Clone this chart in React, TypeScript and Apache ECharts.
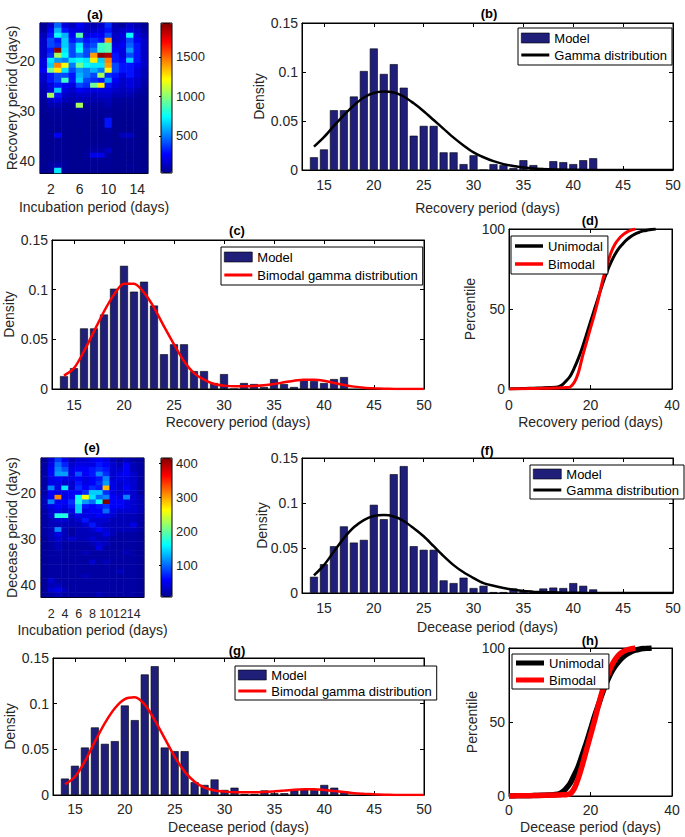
import React, { useEffect, useRef } from "react";
import * as echarts from "echarts";

// ---------------- data ----------------
const incubationDays = ["1", "2", "3", "4", "5", "6", "7", "8", "9", "10", "11", "12", "13", "14", "15"];
const periodDays = ["13", "14", "15", "16", "17", "18", "19", "20", "21", "22", "23", "24", "25", "26", "27", "28", "29", "30", "31", "32", "33", "34", "35", "36", "37", "38", "39", "40", "41", "42"];
const histDays = [14, 15, 16, 17, 18, 19, 20, 21, 22, 23, 24, 25, 26, 27, 28, 29, 30, 31, 32, 33, 34, 35, 36, 37, 38, 39, 40, 41, 42];
const fitDays = [14, 15, 16, 17, 18, 19, 20, 21, 22, 23, 24, 25, 26, 27, 28, 29, 30, 31, 32, 33, 34, 35, 36, 37, 38, 39, 40, 41, 42, 43, 44, 45, 46, 47, 48, 49, 50];
const cdfDays = [0, 2, 4, 6, 8, 10, 12, 13, 14, 15, 16, 17, 18, 19, 20, 21, 22, 23, 24, 25, 26, 27, 28, 29, 30, 31, 32, 33, 34, 35, 36];

const recoveryDensity = [0.013, 0.021, 0.061, 0.061, 0.075, 0.101, 0.124, 0.098, 0.108, 0.084, 0.035, 0.045, 0.045, 0.018, 0.018, 0.006, 0.015, 0, 0.006, 0.005, 0.002, 0.01, 0.005, 0.002, 0.009, 0.008, 0.006, 0.01, 0.012];
const deceaseDensity = [0.018, 0.032, 0.052, 0.074, 0.056, 0.059, 0.098, 0.082, 0.132, 0.141, 0.052, 0.048, 0.048, 0.014, 0.011, 0.017, 0.0055, 0.008, 0.001, 0.001, 0.005, 0.002, 0.002, 0.005, 0.006, 0.0055, 0.011, 0.008, 0.004];

const recoveryGamma = [0.0238, 0.0335, 0.045, 0.056, 0.066, 0.074, 0.0785, 0.08, 0.079, 0.075, 0.068, 0.06, 0.051, 0.042, 0.033, 0.025, 0.018, 0.013, 0.009, 0.006, 0.004, 0.0025, 0.0015, 0.001, 0.0006, 0.0003, 0.0002, 0.0001, 0, 0, 0, 0, 0, 0, 0, 0, 0];
const recoveryBimodal = [0.0135, 0.021, 0.038, 0.058, 0.078, 0.095, 0.106, 0.106, 0.097, 0.082, 0.063, 0.045, 0.028, 0.016, 0.0094, 0.005, 0.0034, 0.0027, 0.0027, 0.003, 0.0037, 0.005, 0.0067, 0.0084, 0.0094, 0.0094, 0.0084, 0.006, 0.004, 0.0024, 0.0013, 0.0007, 0.0003, 0.0001, 0, 0, 0];
const deceaseGamma = [0.0195, 0.031, 0.046, 0.061, 0.073, 0.081, 0.0855, 0.0866, 0.085, 0.08, 0.072, 0.063, 0.052, 0.041, 0.031, 0.023, 0.0166, 0.011, 0.008, 0.0055, 0.0037, 0.0022, 0.0015, 0.001, 0.0007, 0.0004, 0.0002, 0.0001, 0, 0, 0, 0, 0, 0, 0, 0, 0];
const deceaseBimodal = [0.0117, 0.02, 0.037, 0.0585, 0.0787, 0.095, 0.105, 0.107, 0.099, 0.082, 0.062, 0.042, 0.0256, 0.0146, 0.008, 0.005, 0.0037, 0.003, 0.003, 0.003, 0.0033, 0.004, 0.0048, 0.0058, 0.0062, 0.0062, 0.0055, 0.0044, 0.0033, 0.002, 0.0013, 0.0007, 0.0003, 0.0001, 0, 0, 0];

const recoveryUnimodalCdf = [0, 0.2, 0.3, 0.5, 0.7, 0.9, 1.3, 2.5, 5, 8, 13, 19, 26, 34, 42, 50, 58, 66, 73, 79, 84, 88, 91, 93.5, 95.5, 97, 98, 98.8, 99.3, 99.7, 100];
const recoveryBimodalCdf = [0, 0.1, 0.2, 0.3, 0.4, 0.5, 0.7, 0.8, 0.9, 1.3, 4, 10, 20, 29, 38, 47, 57, 68, 77, 85, 90.5, 94, 96.5, 98.2, 99.3, 100];
const deceaseUnimodalCdf = [0, 0.1, 0.2, 0.3, 0.5, 0.7, 1.2, 2.5, 5, 8.5, 14, 20, 28, 36, 45, 54, 62, 70, 77, 83, 87.5, 91, 94, 96, 97.5, 98.5, 99.2, 99.6, 99.8, 100];
const deceaseBimodalCdf = [0, 0.1, 0.2, 0.3, 0.4, 0.5, 0.7, 0.8, 0.9, 1.5, 5, 12, 21, 31, 41, 51, 62, 72, 80, 87, 92, 95.5, 97.5, 98.8, 99.5, 100];

// rows: recovery/decease day 13..42, columns: incubation day 1..15
const recoveryHeat = [
  [50, 150, 450, 200, 120, 250, 150, 100, 150, 350, 100, 60, 150, 100, 50],
  [60, 250, 600, 300, 200, 200, 150, 150, 200, 300, 120, 150, 200, 150, 80],
  [120, 300, 750, 600, 250, 900, 200, 250, 250, 400, 150, 200, 750, 200, 120],
  [150, 400, 300, 650, 300, 400, 300, 350, 300, 1400, 150, 200, 400, 250, 150],
  [150, 400, 350, 650, 400, 700, 350, 400, 850, 900, 200, 250, 450, 300, 150],
  [150, 300, 1900, 700, 400, 750, 400, 500, 850, 900, 250, 200, 550, 300, 150],
  [150, 350, 1050, 750, 400, 500, 400, 1400, 1900, 1850, 300, 200, 400, 300, 150],
  [200, 700, 550, 500, 700, 750, 700, 1250, 650, 1450, 300, 250, 650, 300, 150],
  [200, 650, 1450, 1200, 500, 950, 750, 700, 700, 1400, 400, 300, 300, 250, 150],
  [250, 950, 1250, 700, 400, 550, 500, 600, 500, 1200, 400, 300, 300, 200, 120],
  [150, 300, 400, 400, 300, 600, 500, 400, 1050, 350, 300, 200, 300, 200, 120],
  [150, 300, 400, 850, 300, 650, 400, 350, 300, 550, 250, 150, 200, 150, 100],
  [120, 200, 300, 250, 200, 400, 350, 950, 1250, 300, 200, 150, 200, 150, 80],
  [100, 200, 650, 200, 150, 250, 200, 200, 200, 200, 150, 120, 150, 100, 60],
  [80, 1050, 300, 150, 120, 150, 150, 120, 150, 150, 100, 100, 100, 60, 50],
  [60, 150, 200, 120, 100, 120, 100, 100, 100, 120, 60, 60, 60, 50, 40],
  [50, 100, 100, 60, 60, 1050, 60, 60, 60, 100, 50, 50, 50, 40, 40],
  [40, 60, 60, 50, 50, 60, 50, 50, 50, 60, 40, 40, 40, 40, 35],
  [35, 50, 50, 50, 40, 50, 40, 40, 50, 60, 40, 35, 35, 35, 35],
  [35, 40, 50, 40, 35, 40, 40, 35, 50, 300, 35, 35, 40, 35, 35],
  [35, 40, 50, 40, 35, 40, 40, 35, 50, 300, 35, 35, 35, 35, 35],
  [35, 40, 40, 40, 35, 35, 40, 35, 50, 70, 35, 35, 35, 35, 30],
  [35, 50, 250, 40, 35, 35, 40, 35, 40, 50, 35, 120, 140, 35, 30],
  [35, 40, 50, 40, 35, 35, 40, 35, 40, 50, 35, 50, 50, 35, 30],
  [35, 40, 50, 40, 35, 35, 40, 50, 50, 50, 35, 40, 40, 35, 30],
  [35, 40, 50, 40, 35, 35, 50, 70, 70, 140, 35, 40, 50, 35, 30],
  [35, 40, 50, 40, 35, 35, 70, 220, 220, 70, 35, 40, 35, 35, 30],
  [35, 50, 50, 40, 35, 35, 40, 50, 50, 50, 35, 40, 35, 35, 30],
  [35, 70, 100, 50, 35, 35, 40, 40, 40, 50, 35, 35, 50, 35, 30],
  [35, 50, 700, 50, 35, 35, 40, 35, 40, 40, 35, 35, 35, 35, 30],
];
const deceaseHeat = [
  [10, 35, 80, 50, 25, 35, 35, 45, 55, 45, 25, 15, 25, 15, 10],
  [15, 45, 100, 70, 35, 45, 45, 45, 65, 55, 35, 25, 55, 25, 15],
  [15, 55, 110, 90, 45, 55, 55, 65, 75, 65, 35, 35, 55, 25, 15],
  [15, 55, 120, 120, 45, 90, 55, 65, 110, 75, 35, 45, 55, 35, 15],
  [15, 45, 55, 45, 45, 55, 45, 55, 65, 110, 35, 45, 45, 35, 15],
  [15, 45, 45, 35, 35, 65, 45, 55, 75, 120, 45, 35, 45, 35, 15],
  [15, 110, 45, 150, 35, 75, 55, 75, 65, 290, 45, 35, 55, 35, 15],
  [15, 55, 45, 45, 55, 55, 75, 140, 140, 75, 45, 35, 45, 35, 15],
  [25, 55, 310, 45, 55, 160, 260, 150, 100, 110, 55, 45, 110, 35, 25],
  [25, 110, 55, 55, 75, 170, 120, 100, 160, 415, 55, 55, 45, 35, 25],
  [25, 45, 55, 45, 65, 140, 65, 55, 65, 75, 55, 55, 45, 35, 25],
  [15, 35, 45, 35, 45, 140, 45, 55, 55, 100, 45, 35, 35, 35, 25],
  [15, 35, 170, 170, 35, 45, 45, 45, 55, 45, 35, 25, 25, 25, 15],
  [15, 25, 35, 35, 25, 35, 65, 35, 35, 35, 25, 25, 25, 25, 15],
  [15, 25, 25, 25, 25, 25, 35, 65, 35, 25, 25, 25, 25, 45, 15],
  [15, 25, 110, 25, 15, 25, 25, 35, 55, 35, 25, 25, 25, 25, 15],
  [15, 25, 45, 25, 15, 25, 25, 25, 25, 45, 25, 15, 15, 15, 10],
  [10, 25, 35, 25, 35, 25, 25, 35, 25, 25, 15, 15, 15, 15, 10],
  [10, 15, 25, 15, 15, 15, 15, 25, 35, 25, 15, 15, 15, 15, 10],
  [10, 15, 25, 15, 15, 15, 15, 15, 45, 15, 15, 15, 15, 15, 10],
  [10, 15, 15, 15, 15, 15, 25, 15, 15, 15, 15, 15, 25, 15, 10],
  [10, 15, 15, 15, 15, 15, 15, 15, 15, 15, 15, 15, 15, 15, 10],
  [10, 15, 15, 15, 15, 15, 15, 35, 15, 25, 15, 15, 15, 15, 10],
  [10, 15, 15, 15, 15, 15, 15, 15, 15, 15, 15, 15, 15, 15, 10],
  [10, 15, 15, 15, 15, 15, 15, 15, 15, 15, 15, 25, 15, 15, 10],
  [10, 15, 15, 15, 15, 15, 25, 15, 15, 15, 15, 15, 15, 15, 10],
  [10, 35, 15, 15, 15, 15, 15, 15, 15, 15, 15, 15, 15, 15, 10],
  [10, 25, 25, 15, 15, 15, 15, 15, 15, 15, 15, 15, 15, 15, 10],
  [10, 35, 45, 25, 15, 15, 15, 15, 15, 15, 15, 15, 15, 15, 10],
  [10, 15, 25, 15, 15, 15, 15, 15, 25, 15, 15, 15, 15, 15, 10],
];

const densityTicks = [0, 0.05, 0.1, 0.15];
const periodTicks = [15, 20, 25, 30, 35, 40, 45, 50];
const cdfXTicks = [0, 20, 40];
const cdfYTicks = [0, 50, 100];
const recoveryBarTicks = [500, 1000, 1500];
const deceaseBarTicks = [100, 200, 300, 400];
const incubationLabelsA = ["2", "6", "10", "14"];
const incubationLabelsE = ["2", "4", "6", "8", "10", "12", "14"];
const periodLabels = ["20", "30", "40"];

// ---------------- styling ----------------
const FONT = "'Liberation Sans', Arial, Helvetica, sans-serif";
const INK = "#262626";
const NAVY = "#1f1f7a";
const RED = "#ff0000";
const JET = ["#00008f", "#0000ff", "#0080ff", "#00ffff", "#80ff80", "#ffff00", "#ff8000", "#ff0000", "#800000"];

const zip = (xs: number[], ys: number[]) => ys.map((y, i) => [xs[i], y]);
const cells = (m: number[][]) => {
  const out: number[][] = [];
  m.forEach((row, r) => row.forEach((v, c) => out.push([c, r, v])));
  return out;
};

export default function App() {
  const ref = useRef<HTMLDivElement>(null);
  useEffect(() => {
    if (!ref.current) return;
    const chart = echarts.init(ref.current, null, { renderer: "svg" });
    const grid: any[] = [];
    const xAxis: any[] = [];
    const yAxis: any[] = [];
    const series: any[] = [];
    const legend: any[] = [];
    const visualMap: any[] = [];

    const addGrid = (left: number, top: number, width: number, height: number, z = 2) => {
      grid.push({ left, top, width, height, show: true, borderColor: "#000", borderWidth: 1, backgroundColor: "transparent", containLabel: false, outerBoundsMode: "none", z });
      return grid.length - 1;
    };
    const label = (margin: number, extra: any = {}) => ({ show: true, margin, color: INK, fontSize: 14, fontFamily: FONT, ...extra });
    const nameStyle = { fontSize: 14, color: INK, fontFamily: FONT };
    const axLine = { show: true, onZero: false, lineStyle: { color: "#000", width: 1 } };
    const tick = (vals: number[]) => ({ show: true, inside: true, length: 4, customValues: vals, lineStyle: { color: "#000", width: 1 } });
    const fmt = (v: number) => String(v);

    const valueAxes = (g: number, x: any, y: any) => {
      const xi = xAxis.length;
      xAxis.push({ type: "value", gridIndex: g, position: "bottom", min: x.min, max: x.max, name: x.name, nameLocation: "middle", nameGap: x.gap, nameTextStyle: nameStyle, nameMoveOverlap: false, axisLine: axLine, axisTick: tick(x.ticks), axisLabel: label(x.margin, { customValues: x.ticks, formatter: fmt }), splitLine: { show: false } });
      xAxis.push({ type: "value", gridIndex: g, position: "top", min: x.min, max: x.max, axisLine: axLine, axisTick: tick(x.ticks), axisLabel: { show: false }, splitLine: { show: false } });
      const yi = yAxis.length;
      yAxis.push({ type: "value", gridIndex: g, position: "left", min: y.min, max: y.max, name: y.name, nameLocation: "middle", nameGap: y.gap, nameTextStyle: nameStyle, nameMoveOverlap: false, axisLine: axLine, axisTick: tick(y.ticks), axisLabel: label(y.margin, { customValues: y.ticks, formatter: fmt }), splitLine: { show: false } });
      yAxis.push({ type: "value", gridIndex: g, position: "right", min: y.min, max: y.max, axisLine: axLine, axisTick: tick(y.ticks), axisLabel: { show: false }, splitLine: { show: false } });
      return { xi, yi };
    };

    const heatAxes = (g: number, xLabels: string[], xMargin: number, xFont: number, xName: string, xGap: number, yName: string, yGap: number) => {
      const xi = xAxis.length;
      xAxis.push({ type: "category", gridIndex: g, data: incubationDays, position: "bottom", name: xName, nameLocation: "middle", nameGap: xGap, nameTextStyle: nameStyle, nameMoveOverlap: false, axisLine: axLine, axisTick: { show: false }, axisLabel: label(xMargin, { fontSize: xFont, showMinLabel: true, showMaxLabel: true, hideOverlap: false, interval: (_i: number, v: string) => xLabels.includes(v) }), splitLine: { show: false }, splitArea: { show: false } });
      const yi = yAxis.length;
      yAxis.push({ type: "category", gridIndex: g, data: periodDays, inverse: true, position: "left", name: yName, nameLocation: "middle", nameGap: yGap, nameTextStyle: nameStyle, nameMoveOverlap: false, axisLine: axLine, axisTick: { show: false }, axisLabel: label(5, { showMinLabel: true, showMaxLabel: true, interval: (_i: number, v: string) => periodLabels.includes(v) }), splitLine: { show: false }, splitArea: { show: false } });
      return { xi, yi };
    };

    const cbarAxes = (g: number, min: number, max: number, ticks: number[]) => {
      xAxis.push({ type: "value", gridIndex: g, show: false, min: 0, max: 1 });
      yAxis.push({ type: "value", gridIndex: g, position: "right", min, max, axisLine: { show: false }, axisTick: { show: true, inside: true, length: 2, customValues: ticks, lineStyle: { color: "#000" } }, axisLabel: label(4, { customValues: ticks, fontSize: 13, formatter: fmt }), splitLine: { show: false } });
    };

    const bar = (a: any, data: number[]) => {
      series.push({ type: "bar", name: "Model", xAxisIndex: a.xi, yAxisIndex: a.yi, data: zip(histDays, data), barWidth: 8, itemStyle: { color: NAVY, borderColor: "#000", borderWidth: 0.6 }, silent: true, z: 2 });
    };
    const curve = (a: any, name: string, xs: number[], ys: number[], color: string, width: number) => {
      series.push({ type: "line", name, xAxisIndex: a.xi, yAxisIndex: a.yi, data: zip(xs, ys), smooth: 0.3, symbol: "none", showSymbol: false, lineStyle: { color, width }, itemStyle: { color }, silent: true, z: 3 });
    };

    const modelItem = { name: "Model", icon: "rect", itemStyle: { color: NAVY, borderColor: "#000", borderWidth: 0.6 } };
    const lineItem = (name: string, color: string, w: number) => ({ name, icon: `path://M0,0L28,0L28,${w}L0,${w}Z`, itemStyle: { color, borderWidth: 0 } });
    const addLegend = (left: number, top: number, data: any[], gap: number, pad: number[]) => {
      legend.push({ show: true, left, top, orient: "vertical", data, itemWidth: 28, itemHeight: 10, itemGap: gap, padding: pad, borderColor: "#000", borderWidth: 1, borderRadius: 0, backgroundColor: "#fff", selectedMode: false, symbolKeepAspect: true, textStyle: { fontSize: 13, color: "#000", fontFamily: FONT, lineHeight: 14 }, z: 10 });
    };

    // (a) heatmap recovery
    const gA = addGrid(40, 23, 108, 150);
    const aA = heatAxes(gA, incubationLabelsA, 9, 14, "Incubation period (days)", 27, "Recovery period (days)", 21);
    const sA = series.length;
    series.push({ type: "heatmap", xAxisIndex: aA.xi, yAxisIndex: aA.yi, data: cells(recoveryHeat), silent: true, emphasis: { disabled: true }, progressive: 0 });
    const gCA = addGrid(161, 23, 11, 150, 10);
    cbarAxes(gCA, 30, 1930, recoveryBarTicks);
    visualMap.push({ type: "continuous", seriesIndex: sA, min: 30, max: 1930, left: 161, top: 23, itemWidth: 11, itemHeight: 150, calculable: false, hoverLink: false, padding: 0, inRange: { color: JET } });

    // (b)
    const gB = addGrid(302, 23, 371, 147);
    const aB = valueAxes(gB, { min: 12.8, max: 50, ticks: periodTicks, name: "Recovery period (days)", gap: 31, margin: 8 }, { min: 0, max: 0.15, ticks: densityTicks, name: "Density", gap: 36, margin: 4 });
    bar(aB, recoveryDensity);
    curve(aB, "Gamma distribution", fitDays, recoveryGamma, "#000", 2.5);
    addLegend(518, 28, [modelItem, lineItem("Gamma distribution", "#000", 3)], 3, [3, 5, 3, 3]);

    // (c)
    const gC = addGrid(52, 240, 372, 149);
    const aC = valueAxes(gC, { min: 12.8, max: 50, ticks: periodTicks, name: "Recovery period (days)", gap: 26, margin: 9 }, { min: 0, max: 0.15, ticks: densityTicks, name: "Density", gap: 36, margin: 4 });
    bar(aC, recoveryDensity);
    curve(aC, "Bimodal gamma distribution", fitDays, recoveryBimodal, RED, 2.5);
    addLegend(221, 247, [modelItem, lineItem("Bimodal gamma distribution", RED, 3)], 4, [3, 5, 3, 3]);

    // (d)
    const gD = addGrid(509, 229, 163, 160);
    const aD = valueAxes(gD, { min: 0, max: 40, ticks: cdfXTicks, name: "Recovery period (days)", gap: 26, margin: 9 }, { min: 0, max: 100, ticks: cdfYTicks, name: "Percentile", gap: 32, margin: 4 });
    curve(aD, "Unimodal", cdfDays, recoveryUnimodalCdf, "#000", 3);
    curve(aD, "Bimodal", cdfDays, recoveryBimodalCdf, RED, 3);
    addLegend(511, 236, [lineItem("Unimodal", "#000", 3.5), lineItem("Bimodal", RED, 3.5)], 4, [3, 5, 3, 4]);

    // (e) heatmap decease
    const gE = addGrid(41, 458, 103, 139);
    const aE = heatAxes(gE, incubationLabelsE, 10, 12.5, "Incubation period (days)", 26, "Decease period (days)", 22);
    const sE = series.length;
    series.push({ type: "heatmap", xAxisIndex: aE.xi, yAxisIndex: aE.yi, data: cells(deceaseHeat), silent: true, emphasis: { disabled: true }, progressive: 0 });
    const gCE = addGrid(161, 458, 11, 139, 10);
    cbarAxes(gCE, 6, 415, deceaseBarTicks);
    visualMap.push({ type: "continuous", seriesIndex: sE, min: 6, max: 415, left: 161, top: 458, itemWidth: 11, itemHeight: 139, calculable: false, hoverLink: false, padding: 0, inRange: { color: JET } });

    // (f)
    const gF = addGrid(302, 458, 371, 135);
    const aF = valueAxes(gF, { min: 12.8, max: 50, ticks: periodTicks, name: "Decease period (days)", gap: 27, margin: 8 }, { min: 0, max: 0.15, ticks: densityTicks, name: "Density", gap: 33, margin: 4 });
    bar(aF, deceaseDensity);
    curve(aF, "Gamma distribution", fitDays, deceaseGamma, "#000", 2.5);
    addLegend(530, 465, [modelItem, lineItem("Gamma distribution", "#000", 3)], 2, [2, 5, 2, 3]);

    // (g)
    const gG = addGrid(53, 658, 371, 137);
    const aG = valueAxes(gG, { min: 12.8, max: 50, ticks: periodTicks, name: "Decease period (days)", gap: 25, margin: 7 }, { min: 0, max: 0.15, ticks: densityTicks, name: "Density", gap: 36, margin: 4 });
    bar(aG, deceaseDensity);
    curve(aG, "Bimodal gamma distribution", fitDays, deceaseBimodal, RED, 2.5);
    addLegend(235, 666, [modelItem, lineItem("Bimodal gamma distribution", RED, 3)], 2, [2, 5, 2, 3]);

    // (h)
    const gH = addGrid(509, 648, 163, 148);
    const aH = valueAxes(gH, { min: 0, max: 40, ticks: cdfXTicks, name: "Decease period (days)", gap: 24, margin: 7 }, { min: 0, max: 100, ticks: cdfYTicks, name: "Percentile", gap: 30, margin: 4 });
    curve(aH, "Unimodal", cdfDays, deceaseUnimodalCdf, "#000", 5.5);
    curve(aH, "Bimodal", cdfDays, deceaseBimodalCdf, RED, 5.5);
    addLegend(512, 654, [lineItem("Unimodal", "#000", 5), lineItem("Bimodal", RED, 5)], 3, [2, 5, 2, 4]);

    const titles = [
      { text: "(a)", x: 95, y: 14 },
      { text: "(b)", x: 489, y: 13 },
      { text: "(c)", x: 237, y: 230 },
      { text: "(d)", x: 590, y: 220 },
      { text: "(e)", x: 92, y: 447 },
      { text: "(f)", x: 487, y: 450 },
      { text: "(g)", x: 237, y: 650 },
      { text: "(h)", x: 590, y: 640 },
    ];

    chart.setOption({
      animation: false,
      backgroundColor: "#fff",
      textStyle: { fontFamily: FONT },
      grid,
      xAxis,
      yAxis,
      series,
      legend,
      visualMap,
      graphic: {
        elements: titles.map((t) => ({
          type: "text",
          x: t.x,
          y: t.y,
          silent: true,
          style: { text: t.text, fill: "#000", fontSize: 13, fontWeight: "bold", fontFamily: FONT, align: "center", verticalAlign: "middle", textAlign: "center", textVerticalAlign: "middle" },
        })),
      },
    });
    return () => chart.dispose();
  }, []);
  return <div ref={ref} style={{ position: "absolute", left: 0, top: 0, width: 685, height: 837, background: "#fff" }} />;
}
